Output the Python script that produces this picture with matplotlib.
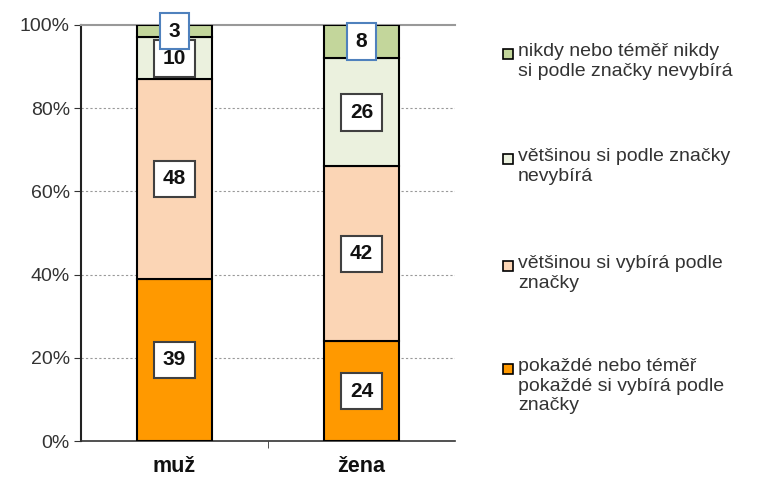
import matplotlib
matplotlib.use("Agg")
import matplotlib.pyplot as plt
from matplotlib.patches import Rectangle
import numpy as np

plt.rcParams['font.family'] = ['Liberation Sans', 'DejaVu Sans']

categories = ['muž', 'žena']
series_names = [
    'pokaždé nebo téměř\npokaždé si vybírá podle\nznačky',
    'většinou si vybírá podle\nznačky',
    'většinou si podle značky\nnevybírá',
    'nikdy nebo téměř nikdy\nsi podle značky nevybírá',
]
values = [
    [39, 24],
    [48, 42],
    [10, 26],
    [3, 8],
]
colors = ['#FF9900', '#FBD5B5', '#EBF1DE', '#C3D69B']
label_edges = ['#404040', '#404040', '#404040', '#4F81BD']
yticks = [0, 20, 40, 60, 80, 100]
ytick_labels = ['0%', '20%', '40%', '60%', '80%', '100%']

fig = plt.figure(figsize=(7.6, 4.79), dpi=100)
ax = fig.add_axes([81/760, 1-441/479, 374/760, 416/479])

x = np.arange(len(categories))
bottom = np.zeros(len(categories))
for i, vals in enumerate(values):
    vals = np.array(vals, dtype=float)
    ax.bar(x, vals, 0.4, bottom=bottom, color=colors[i], edgecolor='black', linewidth=1.5, zorder=3)
    for j, v in enumerate(vals):
        yc = bottom[j] + v/2
        ax.text(x[j], yc, f'{int(v)}', ha='center', va='center', fontsize=15, fontweight='bold',
                color='#111111', zorder=5 + i,
                bbox=dict(boxstyle='square,pad=0.42', facecolor='white', edgecolor=label_edges[i], linewidth=1.5))
    bottom += vals

ax.set_xlim(-0.5, 1.5)
ax.set_ylim(0, 100)
ax.set_yticks(yticks)
ax.set_yticklabels(ytick_labels, fontsize=14, color='#333333')
ax.set_xticks(x)
ax.set_xticklabels(categories, fontsize=15.5, fontweight='bold', color='#111111')
ax.tick_params(axis='x', length=0, pad=11)
ax.set_xticks([0.5], minor=True)
ax.tick_params(axis='x', which='minor', length=5, direction='out', color='#333333')
ax.tick_params(axis='y', length=5, direction='out', color='#333333', pad=3)
for yv in yticks[1:-1]:
    ax.axhline(yv, color='#999999', linestyle=(0, (2, 2)), linewidth=0.8, zorder=1)
ax.spines['right'].set_visible(False)
ax.spines['top'].set_color('#999999')
ax.spines['top'].set_linewidth(1.5)
ax.spines['left'].set_color('#222222')
ax.spines['left'].set_linewidth(1.5)
ax.spines['bottom'].set_color('#333333')
ax.spines['bottom'].set_linewidth(1.2)

# legend (top to bottom: reversed series order)
leg_first_line_y = [54, 159, 266, 369]
for k, idx in enumerate([3, 2, 1, 0]):
    yfirst = leg_first_line_y[k]
    fig.patches.append(Rectangle((503/760, 1-(yfirst+5)/479), 10/760, 10/479,
                                 transform=fig.transFigure, facecolor=colors[idx],
                                 edgecolor='black', linewidth=1.2))
    fig.text(518/760, 1-(yfirst-11)/479, series_names[idx], ha='left', va='top',
             fontsize=14, color='#333333', linespacing=1.2)

fig.savefig('out.png', dpi=100)
